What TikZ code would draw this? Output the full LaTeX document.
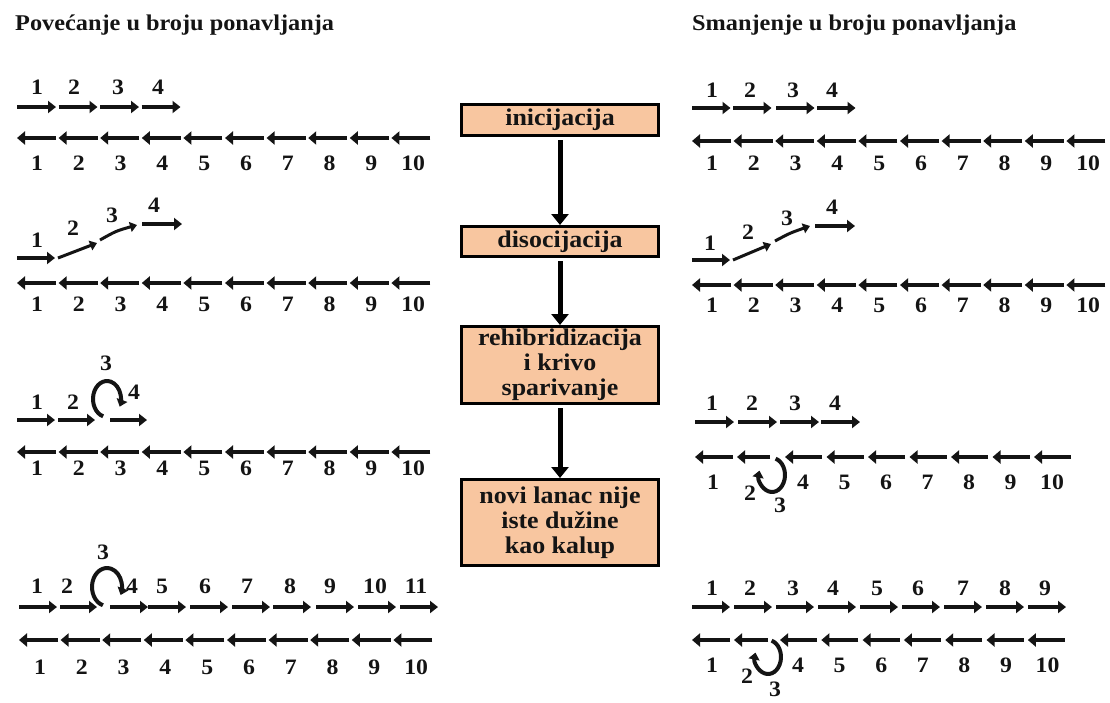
\documentclass[tikz,border=0pt]{standalone}
\usepackage{fontspec}
\setmainfont{Liberation Serif}[FakeStretch=1.08]
\usetikzlibrary{arrows.meta}
\definecolor{boxfill}{RGB}{248,198,160}
\definecolor{ink}{RGB}{20,20,20}
\tikzset{
  strandR/.style={ink, line width=4pt, -{Triangle[length=8pt,width=12pt]}},
  strandL/.style={ink, line width=4.5pt, -{Triangle[length=8pt,width=13pt]}},
  strandT/.style={ink, line width=3pt, -{Triangle[length=7pt,width=10pt]}},
  loopy/.style={ink, line width=4pt, -{Triangle[length=7pt,width=11pt]}},
  num/.style={ink, font=\fontsize{22}{22}\selectfont\bfseries, inner sep=0pt},
  title/.style={ink, font=\fontsize{22.5}{23}\selectfont\bfseries, anchor=base west, inner sep=0pt},
  stepbox/.style={draw=black, line width=3pt, fill=boxfill, text=ink,
    font=\fontsize{24}{25}\selectfont\bfseries, align=center, inner sep=0pt,
    minimum width=197pt},
  flow/.style={black, line width=5pt, shorten <=3pt, -{Triangle[length=11pt,width=17pt]}}
}
% template strand: #1 x0, #2 y, #3 label y, #4 label x offset, #5 name prefix
\newcommand\mytemplate[5]{%
  \foreach \i in {1,...,10}{%
    \draw[strandL] ({#1+41.6*(\i-1)+39},#2) -- ({#1+41.6*(\i-1)},#2);
    \node[num] (#5\i) at ({#1+#4+41.8*(\i-1)},#3) {\i};
  }}
% loop: #1 cx, #2 cy, #3 rx, #4 ry, #5 start, #6 end
\newcommand\myloop[6]{%
  \draw[loopy] ([shift={(#5:#3 and #4)}]#1,#2) arc[start angle=#5, end angle=#6, x radius=#3, y radius=#4];}
\begin{document}
\begin{tikzpicture}[x=1pt,y=-1pt]
\useasboundingbox (0,0) rectangle (1110,702);
\fill[white] (0,0) rectangle (1110,702);

% titles
\node[title] (tL) at (15,30) {Povećanje u broju ponavljanja};
\node[title] (tR) at (692,30) {Smanjenje u broju ponavljanja};

% ---------------- LEFT ----------------
% row 1
\foreach \s/\n/\lx in {17/1/37, 58.5/2/74, 100/3/118, 141.5/4/158}{
  \draw[strandR] (\s,107) -- ({\s+39},107);
  \node[num] (La\n) at (\lx,87) {\n};}
\mytemplate{17}{138}{163}{20}{Lab}
% row 2
\draw[strandR] (17,258) -- (55,258);
\draw[strandT] (58,258) -- (97,243);
\draw[strandT] (100,240) .. controls (116,231) .. (137,225);
\draw[strandR] (142,224) -- (182,224);
\node[num] (Lb1) at (37,240) {1};
\node[num] (Lb2) at (73,228) {2};
\node[num] (Lb3) at (112,215) {3};
\node[num] (Lb4) at (154,205) {4};
\mytemplate{17}{283}{304}{20}{Lbb}
% row 3
\draw[strandR] (17,420) -- (55,420);
\draw[strandR] (58,420) -- (95,420);
\myloop{107}{399}{14}{18}{106}{385}
\draw[strandR] (110,420) -- (147,420);
\node[num] (Lc1) at (37,402) {1};
\node[num] (Lc2) at (73,402) {2};
\node[num] (Lc3) at (106,363) {3};
\node[num] (Lc4) at (134,392) {4};
\mytemplate{17}{452}{468}{20}{Lcb}
% row 4
\draw[strandR] (19,607) -- (57,607);
\draw[strandR] (60,607) -- (97,607);
\myloop{107}{587}{15}{19}{106}{385}
\foreach \s/\n/\lx in {110/4/132, 148/5/162, 190/6/205, 232/7/247, 273/8/290, 316/9/330, 358/10/375, 400/11/416}{
  \draw[strandR] (\s,607) -- ({\s+38},607);
  \node[num] (Ld\n) at (\lx,586) {\n};}
\node[num] (Ld1) at (37,586) {1};
\node[num] (Ld2) at (67,586) {2};
\node[num] (Ld3) at (103,552) {3};
\mytemplate{19}{640}{667}{21}{Ldb}

% ---------------- CENTER ----------------
\node[stepbox, minimum height=31pt] (b1) at (560,120) {inicijacija};
\node[stepbox, minimum height=30pt] (b2) at (560,241.5) {disocijacija};
\node[stepbox, minimum height=77pt] (b3) at (560,365) {rehibridizacija\\i krivo\\sparivanje};
\node[stepbox, minimum height=86pt] (b4) at (560,522.5) {novi lanac nije\\iste dužine\\kao kalup};
\draw[flow] (b1) -- (b2);
\draw[flow] (b2) -- (b3);
\draw[flow] (b3) -- (b4);

% ---------------- RIGHT ----------------
% row 1
\foreach \s/\n/\lx in {692/1/712, 733/2/750, 776/3/793, 817/4/832}{
  \draw[strandR] (\s,108) -- ({\s+38.5},108);
  \node[num] (Ra\n) at (\lx,90) {\n};}
\mytemplate{692}{141}{163}{20}{Rab}
% row 2
\draw[strandR] (692,260) -- (730,260);
\draw[strandT] (733,260) -- (771,244);
\draw[strandT] (775,241) .. controls (790,233) .. (810,226);
\draw[strandR] (815,226) -- (855,226);
\node[num] (Rb1) at (710,243) {1};
\node[num] (Rb2) at (748,232) {2};
\node[num] (Rb3) at (787,218) {3};
\node[num] (Rb4) at (832,207) {4};
\mytemplate{692}{285}{305}{20}{Rbb}
% row 3
\foreach \s/\n/\lx in {695/1/712, 738/2/752, 780/3/795, 821/4/835}{
  \draw[strandR] (\s,422) -- ({\s+39},422);
  \node[num] (Rc\n) at (\lx,403) {\n};}
\draw[strandL] (733,457) -- (695,457);
\draw[strandL] (770,457) -- (737,457);
\myloop{772}{475}{13}{17}{-74}{195}
\foreach \k/\n in {0/4,1/5,2/6,3/7,4/8,5/9,6/10}{
  \draw[strandL] ({785+41.5*\k+37},457) -- ({785+41.5*\k},457);
  \node[num] (Rcb\n) at ({803+41.5*\k},482) {\n};}
\node[num] (Rcb1) at (713,482) {1};
\node[num] (Rcb2) at (750,493) {2};
\node[num] (Rcb3) at (780,505) {3};
% row 4
\foreach \k/\lx in {1/712, 2/750, 3/793, 4/833, 5/877, 6/918, 7/963, 8/1005, 9/1045}{
  \draw[strandR] ({692+42*(\k-1)},607) -- ({692+42*(\k-1)+38},607);
  \node[num] (Rd\k) at (\lx,588) {\k};}
\draw[strandL] (730,640) -- (692,640);
\draw[strandL] (768,640) -- (734,640);
\myloop{768}{657}{13}{17}{-74}{195}
\foreach \k/\n in {0/4,1/5,2/6,3/7,4/8,5/9,6/10}{
  \draw[strandL] ({780+41.3*\k+37},640) -- ({780+41.3*\k},640);
  \node[num] (Rdb\n) at ({798+41.6*\k},665) {\n};}
\node[num] (Rdb1) at (712,665) {1};
\node[num] (Rdb2) at (747,676) {2};
\node[num] (Rdb3) at (775,689) {3};
\end{tikzpicture}
\end{document}
